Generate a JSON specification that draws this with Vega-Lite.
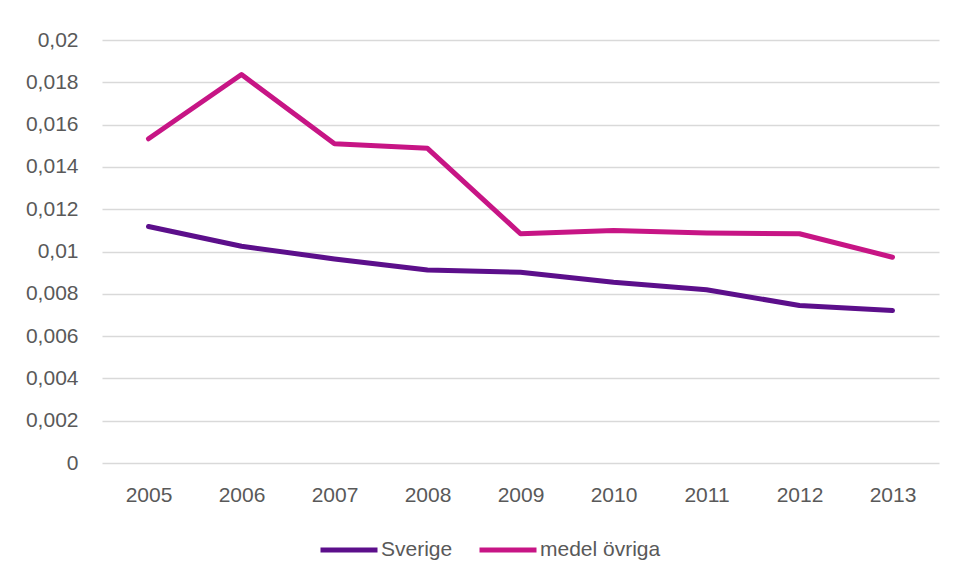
{
  "$schema": "https://vega.github.io/schema/vega-lite/v6.json",
  "width": 837,
  "height": 423,
  "autosize": {"type": "none"},
  "padding": {"left": 102, "top": 40, "right": 14, "bottom": 115},
  "background": "white",
  "config": {
    "view": {"stroke": null},
    "font": "Liberation Sans"
  },
  "data": {
    "values": [
      {"year": "2005", "series": "Sverige", "value": 0.01118},
      {"year": "2006", "series": "Sverige", "value": 0.01025},
      {"year": "2007", "series": "Sverige", "value": 0.00965},
      {"year": "2008", "series": "Sverige", "value": 0.00913},
      {"year": "2009", "series": "Sverige", "value": 0.00902},
      {"year": "2010", "series": "Sverige", "value": 0.00855},
      {"year": "2011", "series": "Sverige", "value": 0.00819},
      {"year": "2012", "series": "Sverige", "value": 0.00745},
      {"year": "2013", "series": "Sverige", "value": 0.00721},
      {"year": "2005", "series": "medel övriga", "value": 0.01533},
      {"year": "2006", "series": "medel övriga", "value": 0.01837},
      {"year": "2007", "series": "medel övriga", "value": 0.01509},
      {"year": "2008", "series": "medel övriga", "value": 0.01488},
      {"year": "2009", "series": "medel övriga", "value": 0.01084},
      {"year": "2010", "series": "medel övriga", "value": 0.01099},
      {"year": "2011", "series": "medel övriga", "value": 0.01088},
      {"year": "2012", "series": "medel övriga", "value": 0.01084},
      {"year": "2013", "series": "medel övriga", "value": 0.00973}
    ]
  },
  "mark": {"type": "line", "strokeWidth": 5, "strokeCap": "round", "strokeJoin": "round"},
  "encoding": {
    "x": {
      "field": "year",
      "type": "ordinal",
      "scale": {"type": "point", "padding": 0.5},
      "axis": {
        "title": null,
        "labelAngle": 0,
        "labelFontSize": 21,
        "labelColor": "#595959",
        "labelPadding": 21,
        "ticks": false,
        "domain": false,
        "grid": false
      }
    },
    "y": {
      "field": "value",
      "type": "quantitative",
      "scale": {"domain": [0, 0.02], "nice": false},
      "axis": {
        "title": null,
        "values": [0, 0.002, 0.004, 0.006, 0.008, 0.01, 0.012, 0.014, 0.016, 0.018, 0.02],
        "labelExpr": "replace(format(datum.value, '~g'), '.', ',')",
        "labelFontSize": 21,
        "labelColor": "#595959",
        "labelPadding": 24,
        "ticks": false,
        "domain": false,
        "gridColor": "#d9d9d9",
        "gridWidth": 1.5
      }
    },
    "color": {
      "field": "series",
      "type": "nominal",
      "sort": ["Sverige", "medel övriga"],
      "scale": {"domain": ["Sverige", "medel övriga"], "range": ["#5c0f8b", "#c71585"]},
      "legend": {
        "title": null,
        "orient": "none",
        "direction": "horizontal",
        "legendX": 216,
        "legendY": 479,
        "symbolType": "stroke",
        "symbolSize": 3249,
        "symbolStrokeWidth": 5,
        "labelFontSize": 21,
        "labelColor": "#595959",
        "labelOffset": 1,
        "columnPadding": 16
      }
    }
  }
}
